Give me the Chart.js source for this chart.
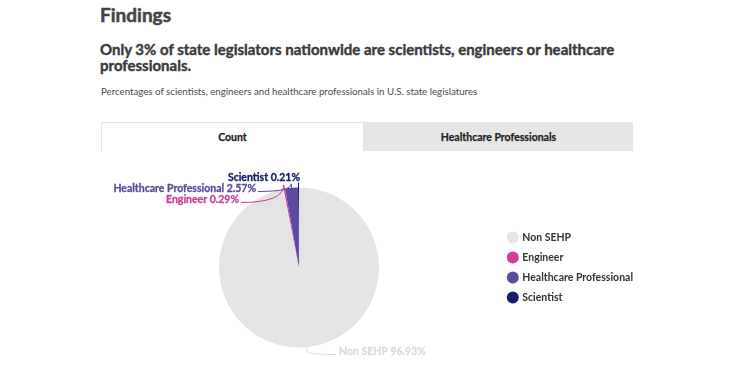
<!DOCTYPE html>
<html>
<head>
<meta charset="utf-8">
<script src="https://cdn.jsdelivr.net/npm/chart.js@4.4.1/dist/chart.umd.min.js"></script>
<style>
  body { margin: 0; background: #fff; font-family: Lato, "Open Sans", sans-serif; color: #444; }
  .page { position: relative; width: 749px; height: 386px; overflow: hidden; }
  h1 { position: absolute; left: 100px; top: 3px; margin: 0; font-size: 19px; font-weight: 700; color: #444; -webkit-text-stroke: 0.5px #444; }
  h2 { position: absolute; left: 100px; top: 41px; width: 540px; margin: 0; font-size: 15px; line-height: 16px; font-weight: 700; color: #3a3a3a; -webkit-text-stroke: 0.4px #3a3a3a; }
  .desc { position: absolute; left: 101px; top: 85px; margin: 0; font-size: 9.7px; font-weight: 400; color: #4a4a4a; }
  .tabs { position: absolute; left: 101px; top: 122px; width: 532px; height: 29px; display: flex; }
  .tab { flex: 0 0 auto; display: flex; align-items: center; justify-content: center; font-size: 10.5px; font-weight: 700; color: #222; box-sizing: border-box; -webkit-text-stroke: 0.25px #222; }
  .tab.on { width: 263px; background: #fff; border: 1px solid #e2e2e2; border-bottom: none; }
  .tab.off { width: 269px; background: #e6e6e6; }
  .chartbox { position: absolute; left: 99px; top: 155px; width: 544px; height: 231px; }
</style>
</head>
<body>
<div class="page">
  <h1>Findings</h1>
  <h2>Only 3% of state legislators nationwide are scientists, engineers or healthcare professionals.</h2>
  <p class="desc">Percentages of scientists, engineers and healthcare professionals in U.S. state legislatures</p>
  <div class="tabs"><div class="tab on">Count</div><div class="tab off">Healthcare Professionals</div></div>
  <div class="chartbox"><canvas id="myChart"></canvas></div>
</div>
<script>
const categories = ['Non SEHP', 'Engineer', 'Healthcare Professional', 'Scientist'];
const shares = [96.93, 0.29, 2.57, 0.21];
const colors = ['#e4e4e4', '#cc3e97', '#5d4a9e', '#13206b'];
const labelColors = ['#dadada', '#cc3e97', '#5d4a9e', '#13206b'];

// where each slice label sits, relative to the pie centre
const labelSpots = [
  { dx: 40, dy: 84, align: 'left' },
  { dx: -60, dy: -68, align: 'right' },
  { dx: -43, dy: -79, align: 'right' },
  { dx: 1, dy: -90, align: 'right' }
];

const sliceLabels = {
  id: 'sliceLabels',
  afterDatasetsDraw(chart) {
    const c = chart.ctx;
    const arcs = chart.getDatasetMeta(0).data;
    c.save();
    c.font = 'bold 10.5px Lato, sans-serif';
    c.textBaseline = 'middle';
    arcs.forEach((arc, i) => {
      const { x, y, startAngle, endAngle, outerRadius } = arc.getProps(['x', 'y', 'startAngle', 'endAngle', 'outerRadius'], true);
      const mid = (startAngle + endAngle) / 2;
      const px = x + Math.cos(mid) * (outerRadius - 2);
      const py = y + Math.sin(mid) * (outerRadius - 2);
      const ex = x + Math.cos(mid) * (outerRadius + 4);
      const ey = y + Math.sin(mid) * (outerRadius + 4);
      const s = labelSpots[i];
      const tx = x + s.dx, ty = y + s.dy;
      const text = categories[i] + ' ' + shares[i].toFixed(2) + '%';
      c.fillStyle = labelColors[i];
      c.strokeStyle = labelColors[i];
      c.textAlign = s.align;
      c.fillText(text, tx, ty);
      c.lineWidth = 0.3;
      c.strokeText(text, tx, ty);
      // leader line
      c.lineWidth = 1;
      c.beginPath();
      if (i === 3) {
        c.moveTo(px, ty + 5);
        c.lineTo(px, py);
      } else {
        const lx = s.align === 'left' ? tx - 3 : tx + 2;
        c.moveTo(lx, ty + 3);
        c.quadraticCurveTo(ex, ty + 3, ex, ey);
        c.lineTo(px, py);
      }
      c.stroke();
    });
    c.restore();
  }
};

Chart.defaults.font.family = 'Lato, sans-serif';

new Chart(document.getElementById('myChart'), {
  type: 'pie',
  data: {
    labels: categories,
    datasets: [{
      data: shares,
      backgroundColor: colors,
      borderWidth: 0,
      radius: 80
    }]
  },
  options: {
    responsive: true,
    maintainAspectRatio: false,
    animation: false,
    layout: { padding: { top: 2, bottom: 8, left: 0, right: 0 } },
    plugins: {
      legend: {
        position: 'right',
        labels: {
          usePointStyle: true,
          pointStyle: 'circle',
          boxWidth: 8.5,
          boxHeight: 8.5,
          padding: 9.5,
          color: '#333',
          font: { size: 10.5, weight: 'bold' }
        }
      },
      tooltip: { enabled: false }
    }
  },
  plugins: [sliceLabels]
});
</script>
</body>
</html>
